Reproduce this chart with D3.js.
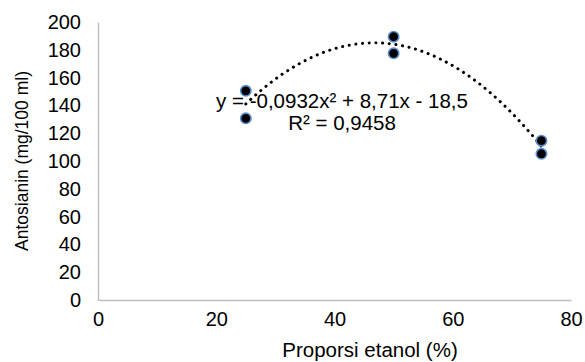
<!DOCTYPE html>
<html>
<head>
<meta charset="utf-8">
<script src="https://cdn.jsdelivr.net/npm/d3@7/dist/d3.min.js"></script>
<style>
  body { margin: 0; background: #fff; }
  text { font-family: "Liberation Sans", Arial, sans-serif; fill: #000; }
  .axis path { stroke: #bfbfbf; stroke-width: 1.5; }
  .axis line { display: none; }
  .axis text { font-size: 20px; }
</style>
</head>
<body>
<script>
// Data
var ethanol = [25, 25, 50, 50, 75, 75];
var antosianin = [150.5, 130.7, 189.4, 177.5, 114.6, 105.2];
var xTicks = [0, 20, 40, 60, 80];
var yTicks = [0, 20, 40, 60, 80, 100, 120, 140, 160, 180, 200];
// trendline coefficients as given in the chart label
var coef = [-0.0932, 8.71, -18.5];
var eqLabel = "y = -0,0932x² + 8,71x - 18,5";
var r2Label = "R² = 0,9458";

var W = 585, H = 362;
var svg = d3.select("body").append("svg").attr("width", W).attr("height", H);

var xScale = d3.scaleLinear().domain([0, 80]).range([98, 571]);
var yScale = d3.scaleLinear().domain([0, 200]).range([300, 22]);

// Axes
svg.append("g")
    .attr("class", "axis")
    .attr("transform", "translate(0,300)")
    .call(d3.axisBottom(xScale).tickValues(xTicks).tickSize(0).tickPadding(12).tickSizeOuter(0));

svg.append("g")
    .attr("class", "axis")
    .attr("transform", "translate(98,0)")
    .call(d3.axisLeft(yScale).tickValues(yTicks).tickSize(0).tickPadding(17).tickSizeOuter(0));

// Trendline (dotted)
var trendX = d3.range(25, 75.01, 0.5);
var trendLine = d3.line()
    .x(function(d) { return xScale(d); })
    .y(function(d) { return yScale(coef[0] * d * d + coef[1] * d + coef[2]); });

svg.append("path")
    .datum(trendX)
    .attr("d", trendLine)
    .attr("fill", "none")
    .attr("stroke", "#000")
    .attr("stroke-width", 3)
    .attr("stroke-linecap", "round")
    .attr("stroke-dasharray", "0.1,6.6");

// Points
svg.selectAll("circle").data(ethanol).enter().append("circle")
    .attr("cx", function(d) { return xScale(d); })
    .attr("cy", function(d, i) { return yScale(antosianin[i]); })
    .attr("r", 5.2)
    .attr("fill", "#000")
    .attr("stroke", "#5b8fd0")
    .attr("stroke-width", 1.6);

// Equation labels
svg.append("text")
    .attr("x", 342).attr("y", 108)
    .attr("text-anchor", "middle")
    .style("font-size", "20.5px")
    .text(eqLabel);

svg.append("text")
    .attr("x", 342).attr("y", 130)
    .attr("text-anchor", "middle")
    .style("font-size", "20.5px")
    .text(r2Label);

// Axis titles
svg.append("text")
    .attr("text-anchor", "middle")
    .attr("transform", "translate(28,161)rotate(-90)")
    .style("font-size", "17.5px")
    .text("Antosianin (mg/100 ml)");

svg.append("text")
    .attr("text-anchor", "middle")
    .attr("x", 370).attr("y", 357)
    .style("font-size", "20.5px")
    .text("Proporsi etanol (%)");
</script>
</body>
</html>
